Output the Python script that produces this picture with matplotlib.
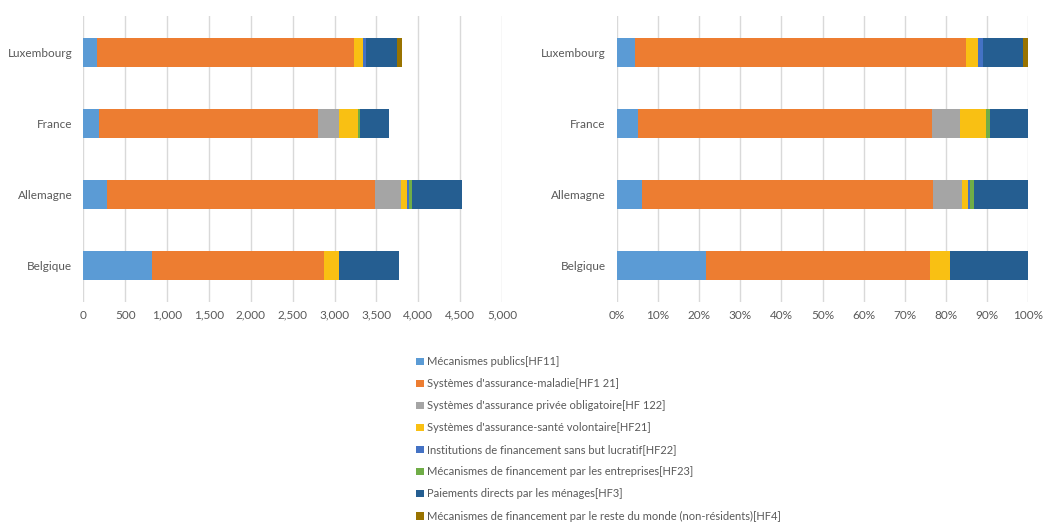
import numpy as np
import matplotlib
matplotlib.use("Agg")
import matplotlib.pyplot as plt
from matplotlib.patches import Patch
from matplotlib.ticker import FuncFormatter

plt.rcParams['font.family'] = ['Lato', 'DejaVu Sans']

# pays (de bas en haut)
pays = ["Belgique", "Allemagne", "France", "Luxembourg"]

# dépenses par habitant, par mécanisme de financement
hf11 = [816, 283, 191, 167]
hf121 = [2056, 3197, 2609, 3062]
hf122 = [0, 318, 247, 0]
hf21 = [182, 64, 230, 112]
hf22 = [0, 28, 0, 40]
hf23 = [0, 35, 32, 0]
hf3 = [721, 601, 342, 370]
hf4 = [0, 0, 0, 51]

series = [hf11, hf121, hf122, hf21, hf22, hf23, hf3, hf4]
labels = [
    "Mécanismes publics[HF11]",
    "Systèmes d'assurance-maladie[HF1 21]",
    "Systèmes d'assurance privée obligatoire[HF 122]",
    "Systèmes d'assurance-santé volontaire[HF21]",
    "Institutions de financement sans but lucratif[HF22]",
    "Mécanismes de financement par les entreprises[HF23]",
    "Paiements directs par les ménages[HF3]",
    "Mécanismes de financement par le reste du monde (non-résidents)[HF4]",
]
couleurs = ["#5B9BD5", "#ED7D31", "#A5A5A5", "#F9C013",
            "#4472C4", "#70AD47", "#255E91", "#997300"]

data = np.array(series, dtype=float)
totaux = data.sum(axis=0)
parts = data / totaux * 100

gris_txt = "#595959"
gris_grid = "#D9D9D9"

fig = plt.figure(figsize=(10.51, 5.25), dpi=100)
ax1 = fig.add_axes([0.0793, 0.4257, 0.3984, 0.5429])
ax2 = fig.add_axes([0.5868, 0.4257, 0.3916, 0.5429])

y = np.arange(len(pays))
h = 0.41

for ax, vals in [(ax1, data), (ax2, parts)]:
    gauche = np.zeros(len(pays))
    for v, c in zip(vals, couleurs):
        ax.barh(y, v, left=gauche, height=h, color=c, linewidth=0, zorder=3)
        gauche += v
    ax.set_yticks(y)
    ax.set_yticklabels(pays)
    ax.set_ylim(-0.5, 3.5)
    ax.grid(axis='x', color=gris_grid, linewidth=1, zorder=0)
    for s in ax.spines.values():
        s.set_visible(False)
    ax.tick_params(length=0, colors=gris_txt, labelsize=8.5)
    ax.tick_params(axis='y', pad=8)
    ax.tick_params(axis='x', pad=6)

ax1.set_xlim(0, 5000)
ax1.set_xticks(np.arange(0, 5001, 500))
ax1.xaxis.set_major_formatter(FuncFormatter(lambda v, p: f"{int(v):,}"))

ax2.set_xlim(0, 100)
ax2.set_xticks(np.arange(0, 101, 10))
ax2.xaxis.set_major_formatter(FuncFormatter(lambda v, p: f"{int(v)}%"))

handles = [Patch(facecolor=c, edgecolor='none') for c in couleurs]
fig.legend(handles, labels, loc='upper left', bbox_to_anchor=(0.396, 0.321),
           frameon=False, fontsize=8, labelcolor=gris_txt,
           handlelength=0.7, handleheight=0.7, handletextpad=0.25,
           labelspacing=0.99, borderaxespad=0, borderpad=0)

fig.savefig("out.png", dpi=100)
